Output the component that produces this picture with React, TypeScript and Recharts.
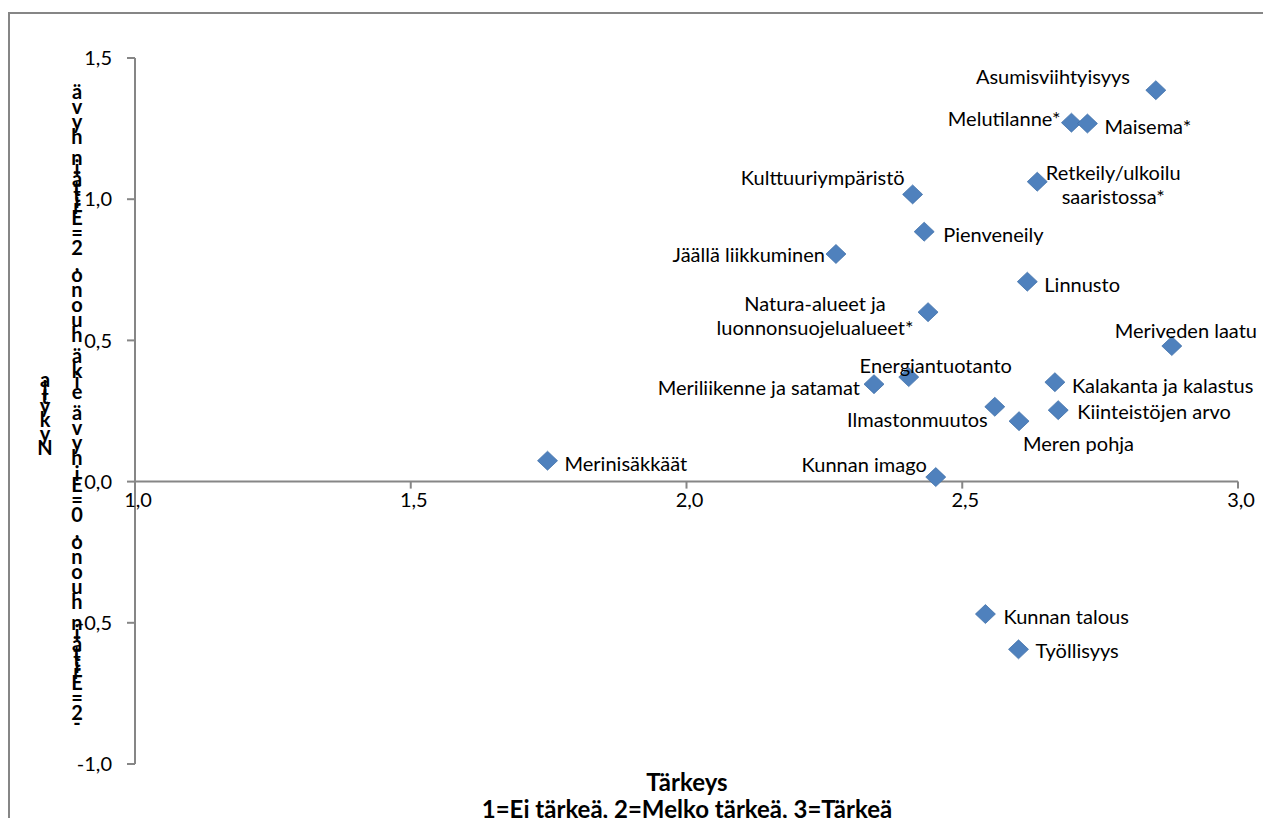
import { ScatterChart, Scatter, XAxis, YAxis, ReferenceLine, ReferenceDot } from "recharts"

const names = [
  "Asumisviihtyisyys",
  "Melutilanne*",
  "Maisema*",
  "Retkeily/ulkoilu saaristossa*",
  "Kulttuuriympäristö",
  "Pienveneily",
  "Jäällä liikkuminen",
  "Linnusto",
  "Natura-alueet ja luonnonsuojelualueet*",
  "Meriveden laatu",
  "Energiantuotanto",
  "Meriliikenne ja satamat",
  "Kalakanta ja kalastus",
  "Ilmastonmuutos",
  "Kiinteistöjen arvo",
  "Meren pohja",
  "Merinisäkkäät",
  "Kunnan imago",
  "Kunnan talous",
  "Työllisyys",
]

// Tärkeys (x)
const importance = [
  2.851, 2.698, 2.727, 2.636, 2.41, 2.431, 2.271, 2.618, 2.438, 2.88,
  2.403, 2.34, 2.668, 2.559, 2.674, 2.603, 1.748, 2.452, 2.542, 2.602,
]

// Nykytila (y)
const state = [
  1.386, 1.271, 1.268, 1.062, 1.017, 0.885, 0.806, 0.708, 0.6, 0.48,
  0.37, 0.345, 0.352, 0.265, 0.253, 0.214, 0.074, 0.016, -0.469, -0.594,
]

const xTicks = [1, 1.5, 2, 2.5, 3]
const yTicks = [-1, -0.5, 0, 0.5, 1, 1.5]

const xTitle = "Tärkeys"
const xSubtitle = "1=Ei tärkeä, 2=Melko tärkeä, 3=Tärkeä"
const yTitle = "Nykytila"
const ySubtitle = "-2=Erittäin huono, 0=Ei hyvä eikä huono, 2=Erittäin hyvä"

const points = names.map((name, i) => ({ name, x: importance[i], y: state[i] }))

// where each point label sits relative to its marker
const labelPos: Record<string, { dx: number; dy: number; anchor: string; wrap?: boolean }> = {
  "Asumisviihtyisyys": { dx: -26, dy: -14, anchor: "end" },
  "Melutilanne*": { dx: -11, dy: -5, anchor: "end" },
  "Maisema*": { dx: 17, dy: 2, anchor: "start" },
  "Retkeily/ulkoilu saaristossa*": { dx: 76, dy: -10, anchor: "middle", wrap: true },
  "Kulttuuriympäristö": { dx: -8, dy: -17, anchor: "end" },
  "Pienveneily": { dx: 19, dy: 2, anchor: "start" },
  "Jäällä liikkuminen": { dx: -11, dy: 0, anchor: "end" },
  "Linnusto": { dx: 17, dy: 2, anchor: "start" },
  "Natura-alueet ja luonnonsuojelualueet*": { dx: -113, dy: -9, anchor: "middle", wrap: true },
  "Meriveden laatu": { dx: 14, dy: -16, anchor: "middle" },
  "Energiantuotanto": { dx: 27, dy: -12, anchor: "middle" },
  "Meriliikenne ja satamat": { dx: -14, dy: 3, anchor: "end" },
  "Kalakanta ja kalastus": { dx: 17, dy: 3, anchor: "start" },
  "Ilmastonmuutos": { dx: -7, dy: 12, anchor: "end" },
  "Kiinteistöjen arvo": { dx: 19, dy: 1, anchor: "start" },
  "Meren pohja": { dx: 4, dy: 22, anchor: "start" },
  "Merinisäkkäät": { dx: 17, dy: 2, anchor: "start" },
  "Kunnan imago": { dx: -9, dy: -13, anchor: "end" },
  "Kunnan talous": { dx: 18, dy: 2, anchor: "start" },
  "Työllisyys": { dx: 17, dy: 1, anchor: "start" },
}

const FONT = "Lato, 'Open Sans', sans-serif"
const AXIS = "#868686"

const fmt = (v: number) => v.toFixed(1).replace(".", ",")

function Diamond(props: any) {
  const { cx, cy, payload } = props
  const p = labelPos[payload.name] || { dx: 14, dy: 0, anchor: "start" }
  let lines = [payload.name]
  if (p.wrap) {
    const k = payload.name.lastIndexOf(" ")
    lines = [payload.name.slice(0, k), payload.name.slice(k + 1)]
  }
  return (
    <g>
      <polygon
        points={`${cx},${cy - 9.5} ${cx + 10},${cy} ${cx},${cy + 9.5} ${cx - 10},${cy}`}
        fill="#4f81bd"
        stroke="#3f6fa8"
        strokeWidth={0.75}
      />
      {lines.map((l, i) => (
        <text
          key={i}
          x={cx + p.dx}
          y={cy + p.dy + i * 24}
          textAnchor={p.anchor as any}
          dominantBaseline="central"
          fontFamily={FONT}
          fontSize={20}
          fill="#000"
        >
          {l}
        </text>
      ))}
    </g>
  )
}

function XTickMark(props: any) {
  const { cx, cy, text } = props
  return (
    <g>
      <line x1={cx} y1={cy} x2={cx} y2={cy + 7} stroke={AXIS} strokeWidth={2} />
      <text x={cx + 3} y={cy + 17} textAnchor="middle" dominantBaseline="central" fontFamily={FONT} fontSize={20} fill="#000">
        {text}
      </text>
    </g>
  )
}

const narrow = new Set(["i", "l", "r", "t", " ", ",", "-", "j", "f"])

// the y-axis title is drawn as stacked characters, bottom to top
function Stacked({ text, x, top, wide, thin, size }: { text: string; x: number; top: number; wide: number; thin: number; size: number }) {
  const chars = Array.from(text).reverse()
  let y = top
  return (
    <g>
      {chars.map((c, i) => {
        const a = narrow.has(c) ? thin : wide
        const cy = y + a / 2
        y += a
        return (
          <text key={i} x={x} y={cy} textAnchor="middle" dominantBaseline="central" fontFamily={FONT} fontWeight="bold" fontSize={size} fill="#000">
            {c}
          </text>
        )
      })}
    </g>
  )
}

export default function App() {
  return (
    <div style={{ position: "relative", width: 1257, height: 818, marginBottom: -8, overflow: "hidden" }}>
      <div
        style={{
          position: "absolute",
          left: 0,
          top: 4,
          width: 1257,
          height: 840,
          border: `2px solid ${AXIS}`,
          boxSizing: "border-box",
        }}
      />
      <div style={{ position: "absolute", left: 0, top: 0 }}>
        <ScatterChart width={1257} height={818} margin={{ top: 50, right: 27, bottom: 62, left: 67 }}>
          <XAxis type="number" dataKey="x" domain={[1, 3]} ticks={xTicks} hide />
          <YAxis
            type="number"
            dataKey="y"
            domain={[-1, 1.5]}
            ticks={yTicks}
            width={60}
            tickFormatter={fmt}
            axisLine={{ stroke: AXIS, strokeWidth: 2 }}
            tickLine={{ stroke: AXIS, strokeWidth: 2 }}
            tickSize={8}
            tickMargin={15}
            tick={{ fill: "#000", fontSize: 20, fontFamily: FONT }}
          />
          <ReferenceLine y={0} stroke={AXIS} strokeWidth={2} />
          {xTicks.map((t) => (
            <ReferenceDot
              key={t}
              x={t}
              y={0}
              r={1}
              shape={(p: any) => <XTickMark {...p} text={fmt(t)} />}
            />
          ))}
          <Scatter data={points} shape={Diamond} isAnimationActive={false} />
        </ScatterChart>
      </div>
      <svg width={1257} height={818} style={{ position: "absolute", left: 0, top: 0, pointerEvents: "none" }}>
        <Stacked text={ySubtitle} x={69} top={75} wide={15} thin={6} size={20} />
        <Stacked text={yTitle} x={37} top={364} wide={14} thin={4} size={20} />
        <text x={679} y={773} textAnchor="middle" dominantBaseline="central" fontFamily={FONT} fontWeight="bold" fontSize={24}>
          {xTitle}
        </text>
        <text x={679} y={800} textAnchor="middle" dominantBaseline="central" fontFamily={FONT} fontWeight="bold" fontSize={24}>
          {xSubtitle}
        </text>
      </svg>
    </div>
  )
}
